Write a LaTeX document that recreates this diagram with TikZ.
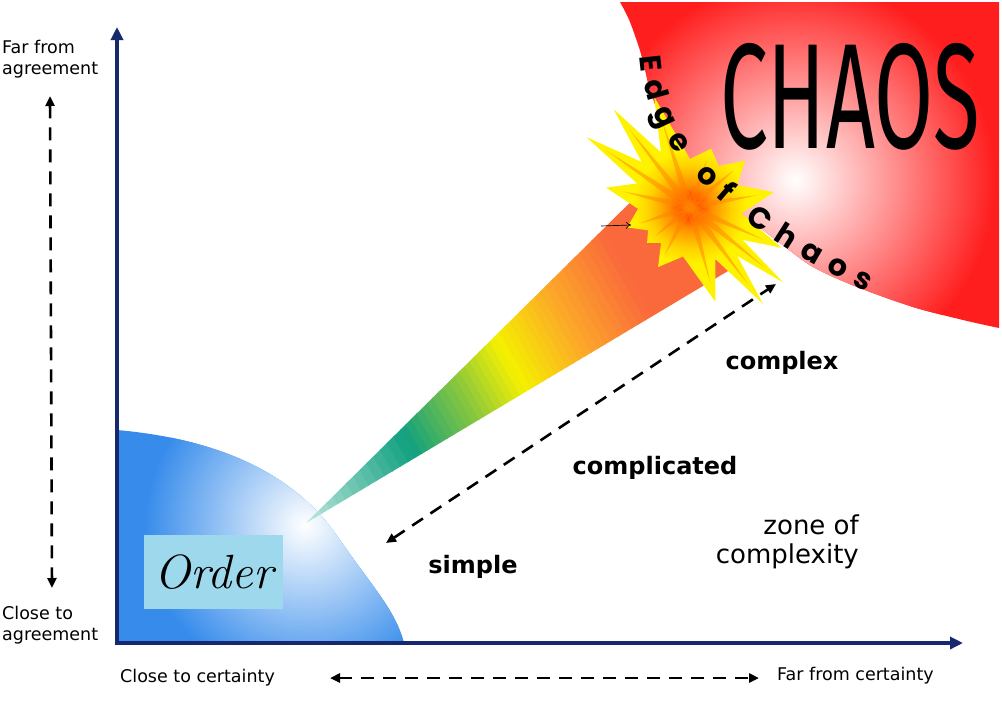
\documentclass[tikz,border=0pt]{standalone}
\usepackage{fontspec}
\usepackage{graphicx}
\usetikzlibrary{arrows.meta,calc,decorations.text}
\newfontfamily\labfont{DejaVu Sans}
\newfontfamily\chaosfont{Fira Sans}
\newfontfamily\edgefont{Poppins}
\definecolor{axisblue}{RGB}{22,40,110}
\definecolor{chaosred}{RGB}{255,30,30}
\definecolor{orderblue}{RGB}{55,140,235}
\definecolor{orderfill}{RGB}{158,216,236}
\definecolor{starred}{RGB}{255,40,0}
\definecolor{starorange}{RGB}{255,140,0}
\definecolor{staryo}{RGB}{255,210,0}
\definecolor{staryellow}{RGB}{255,242,0}
\definecolor{streakc}{RGB}{255,130,0}
\definecolor{bc0}{RGB}{190,230,220}
\definecolor{bc1}{RGB}{16,160,128}
\definecolor{bc2}{RGB}{140,200,60}
\definecolor{bc3}{RGB}{245,240,0}
\definecolor{bc4}{RGB}{252,170,40}
\definecolor{bc5}{RGB}{250,105,60}
\pgfdeclareradialshading{burst}{\pgfpoint{0bp}{0bp}}{color(0bp)=(starred); color(1bp)=(starred); color(4bp)=(starorange); color(8bp)=(staryo); color(11bp)=(staryellow); color(50bp)=(staryellow)}
\newcommand\beamseg[5]{%
  \foreach \k in {1,...,#5}{%
    \pgfmathsetmacro\ta{#1+(#2-#1)*(\k-1)/#5}%
    \pgfmathsetmacro\tb{#1+(#2-#1)*\k/#5+0.002}%
    \pgfmathtruncatemacro\pc{100*(\k-0.5)/#5}%
    \fill[fill={#4!\pc!#3}] ($(bA)!\ta!(bU)$) -- ($(bA)!\tb!(bU)$) -- ($(bA)!\tb!(bL)$) -- ($(bA)!\ta!(bL)$) -- cycle;
  }}
\begin{document}
\begin{tikzpicture}[x=1pt,y=-1pt,
  lab/.style={font=\labfont\fontsize{17.5}{21}\selectfont, align=left, inner sep=0pt},
  zonelab/.style={font=\labfont\bfseries\fontsize{24}{28}\selectfont, inner sep=0pt},
  dasharrow/.style={line width=2.6pt, dash pattern=on 13pt off 9pt, {Triangle[length=10pt,width=9pt]}-{Triangle[length=10pt,width=9pt]}},
  axisline/.style={draw=axisblue, line width=4pt, line join=miter, {Triangle[length=13pt,width=12pt]}-{Triangle[length=13pt,width=12pt]}},
  orderbox/.style={fill=orderfill, minimum width=139pt, minimum height=74pt, inner sep=0pt, font=\fontsize{48}{48}\selectfont\itshape}
]
\useasboundingbox (0,0) rectangle (1002,716);
\fill[white] (0,0) rectangle (1002,716);

% chaos region
\begin{scope}
  \clip (999,328) -- (999,2) -- plot[smooth,tension=0.5] coordinates {(620,2) (630,22) (642,57) (650,90) (662,120) (680,150) (705,185) (735,212) (760,228) (780,243) (813,267) (857,287) (913,307) (963,320) (999,328)} -- cycle;
  \fill[chaosred] (600,0) rectangle (1002,340);
  \shade[inner color=white, outer color=chaosred] (795,180) circle (200pt);
\end{scope}

% order region
\begin{scope}
  \clip (117,643) -- (117,430) .. controls (230,440) and (300,480) .. (340,540) .. controls (375,590) and (395,610) .. (404,643) -- cycle;
  \fill[orderblue] (110,420) rectangle (410,650);
  \shade[inner color=white, outer color=orderblue] (305,525) circle (160pt);
\end{scope}

% beam
\coordinate (bA) at (306,523);
\coordinate (bU) at (668,165);
\coordinate (bL) at (728,271);
\beamseg{0}{0.26}{bc0}{bc1}{14}
\beamseg{0.26}{0.41}{bc1}{bc2}{10}
\beamseg{0.41}{0.52}{bc2}{bc3}{8}
\beamseg{0.52}{0.66}{bc3}{bc4}{10}
\beamseg{0.66}{0.82}{bc4}{bc5}{10}
\beamseg{0.82}{1.0}{bc5}{bc5}{1}

% star burst
\coordinate (C) at (690,207);
\foreach \i/\m/\r in {1/10/85, 2/25/52, 3/40/72, 4/55/50, 5/70/62, 6/90/48, 7/108/116, 8/118/62, 9/128/124, 10/137/66, 11/146/125, 12/156/58, 13/167/86, 14/182/52, 15/198/66, 16/209/48, 17/220/56, 18/231/46, 19/242/68, 20/262/50, 21/285/98, 22/296/58, 23/307/121, 24/314/68, 25/321/120, 26/328/62, 27/336/100, 28/353/52}
  \coordinate (s\i) at ($(C)+({-\m}:\r)$);
\begin{scope}
  \clip (s1) -- (s2) -- (s3) -- (s4) -- (s5) -- (s6) -- (s7) -- (s8) -- (s9) -- (s10) -- (s11) -- (s12) -- (s13) -- (s14) -- (s15) -- (s16) -- (s17) -- (s18) -- (s19) -- (s20) -- (s21) -- (s22) -- (s23) -- (s24) -- (s25) -- (s26) -- (s27) -- (s28) -- cycle;
  \shade[shading=burst] (C) circle (130pt);
  \foreach \m/\r in {10/85, 40/72, 70/62, 108/116, 128/124, 146/125, 167/86, 198/66, 220/56, 242/68, 285/98, 307/121, 321/120, 336/100}
    \fill[streakc, opacity=0.5] ($(C)+({-\m+90}:4)$) -- ($(C)+({-\m}:{\r*0.8})$) -- ($(C)+({-\m-90}:4)$) -- cycle;
\end{scope}

% small thin arrow
\coordinate (ta) at (601,226);
\coordinate (tb) at (631,225);
\draw[line width=0.7pt, -{To[length=5pt,width=7pt]}] (ta) -- (tb);

% CHAOS
\node[font=\chaosfont\fontsize{150}{150}\selectfont, inner sep=0pt] (chaos) at (850,97) {\scalebox{0.57}[1]{CHAOS}};

% Edge of Chaos along curve
\coordinate (e1) at (640,56);
\coordinate (e2) at (646,145);
\coordinate (e3) at (710,214);
\coordinate (e4) at (866,292);
\path[decorate, decoration={text along path, text={|\edgefont\bfseries\fontsize{30}{30}\selectfont|Edge of Chaos}, text align={fit to path}}] (e1) .. controls (e2) and (e3) .. (e4);

% axes
\coordinate (ytop) at (117,27);
\coordinate (O) at (117,643);
\coordinate (xend) at (963,643);
\draw[axisline] (ytop) -- (O) -- (xend);

% order box
\node[orderbox] (order) at (213.5,572) {Order};

% labels
\node[lab, anchor=west] (farag) at (2,59) {Far from\\agreement};
\node[lab, anchor=west] (closeag) at (2,625.5) {Close to\\agreement};
\node[lab, anchor=west] (closecert) at (120,678) {Close to certainty};
\node[lab, anchor=west] (farcert) at (777,676) {Far from certainty};
\node[zonelab] (complex) at (782,363) {complex};
\node[zonelab] (complicated) at (655,468) {complicated};
\node[zonelab] (simple) at (473,567) {simple};
\node[font=\labfont\fontsize{26}{29}\selectfont, align=right, anchor=east, inner sep=0pt] (zone) at (859,542) {zone of\\complexity};

% dashed arrows
\coordinate (vd1) at (50,96);
\coordinate (vd2) at (52,588);
\coordinate (hd1) at (330,678);
\coordinate (hd2) at (759,678);
\coordinate (dd1) at (386,543);
\coordinate (dd2) at (776,284);
\draw[dasharrow] (vd1) -- (vd2);
\draw[dasharrow] (hd1) -- (hd2);
\draw[dasharrow] (dd1) -- (dd2);
\end{tikzpicture}
\end{document}
